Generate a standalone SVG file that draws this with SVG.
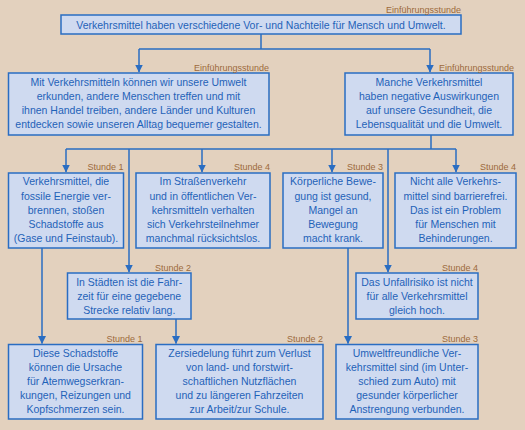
<svg xmlns="http://www.w3.org/2000/svg" width="525" height="430" viewBox="0 0 525 430">
<defs>
<style>
.bg{fill:#e3d1be}
.box{fill:#cfdaf0;stroke:#2a6dc2;stroke-width:1.5}
.t{font-family:"Liberation Sans",Arial,sans-serif;font-size:10.5px;fill:#1f62b8;text-anchor:middle}
.lb{font-family:"Liberation Sans",Arial,sans-serif;font-size:9px;fill:#9c6a3c;text-anchor:end}
.c{fill:none;stroke:#2a6dc2;stroke-width:1.5}
</style>
<marker id="ad" markerUnits="userSpaceOnUse" markerWidth="8" markerHeight="8" refX="7" refY="3.75" orient="auto" viewBox="0 0 7.5 7.5">
<path d="M0,0 L7.5,3.75 L0,7.5 Z" fill="#2a6dc2"/>
</marker>
</defs>
<rect class="bg" x="0" y="0" width="525" height="430"/>
<g id="connectors">
<path class="c" d="M261,34 V49 M139,49 H430"/>
<path class="c" d="M139,49 V72" marker-end="url(#ad)"/>
<path class="c" d="M430,49 V72" marker-end="url(#ad)"/>
<path class="c" d="M431,135 V149 M66,149 H456"/>
<path class="c" d="M66,149 V172" marker-end="url(#ad)"/>
<path class="c" d="M202,149 V172" marker-end="url(#ad)"/>
<path class="c" d="M332,149 V172" marker-end="url(#ad)"/>
<path class="c" d="M456,149 V172" marker-end="url(#ad)"/>
<path class="c" d="M129,149 V272" marker-end="url(#ad)"/>
<path class="c" d="M388,149 V272" marker-end="url(#ad)"/>
<path class="c" d="M42,248 V343.5" marker-end="url(#ad)"/>
<path class="c" d="M176,319 V343.5" marker-end="url(#ad)"/>
<path class="c" d="M348,248 V343.5" marker-end="url(#ad)"/>
</g>
<g id="n_top">
<rect class="box" x="61" y="15" width="400" height="19"/>
<text class="lb" x="461" y="13">Einführungsstunde</text>
<text class="t" x="261" y="28.5">Verkehrsmittel haben verschiedene Vor- und Nachteile für Mensch und Umwelt.</text>
</g>
<g id="n_vorteile">
<rect class="box" x="8.5" y="73" width="260.5" height="62"/>
<text class="lb" x="269" y="70.5">Einführungsstunde</text>
<text class="t" x="138.5" y="85.5">Mit Verkehrsmitteln können wir unsere Umwelt</text>
<text class="t" x="138.5" y="99.5">erkunden, andere Menschen treffen und mit</text>
<text class="t" x="138.5" y="113.5">ihnen Handel treiben, andere Länder und Kulturen</text>
<text class="t" x="138.5" y="127.5">entdecken sowie unseren Alltag bequemer gestalten.</text>
</g>
<g id="n_nachteile">
<rect class="box" x="345" y="73" width="168" height="62"/>
<text class="lb" x="514" y="70.5">Einführungsstunde</text>
<text class="t" x="429" y="85.5">Manche Verkehrsmittel</text>
<text class="t" x="429" y="99.5">haben negative Auswirkungen</text>
<text class="t" x="429" y="113.5">auf unsere Gesundheit, die</text>
<text class="t" x="429" y="127.5">Lebensqualität und die Umwelt.</text>
</g>
<g id="n_fossil">
<rect class="box" x="8.5" y="173" width="115" height="75"/>
<text class="lb" x="123.5" y="170">Stunde 1</text>
<text class="t" x="66" y="185.2">Verkehrsmittel, die</text>
<text class="t" x="66" y="199.5">fossile Energie ver-</text>
<text class="t" x="66" y="213.5">brennen, stoßen</text>
<text class="t" x="66" y="227.5">Schadstoffe aus</text>
<text class="t" x="66" y="241.7">(Gase und Feinstaub).</text>
</g>
<g id="n_strasse">
<rect class="box" x="136" y="173" width="134" height="75"/>
<text class="lb" x="270" y="170">Stunde 4</text>
<text class="t" x="203" y="185.2">Im Straßenverkehr</text>
<text class="t" x="203" y="199.5">und in öffentlichen Ver-</text>
<text class="t" x="203" y="213.5">kehrsmitteln verhalten</text>
<text class="t" x="203" y="227.5">sich Verkehrsteilnehmer</text>
<text class="t" x="203" y="241.7">manchmal rücksichtslos.</text>
</g>
<g id="n_bewegung">
<rect class="box" x="283" y="173" width="100" height="75"/>
<text class="lb" x="383" y="170">Stunde 3</text>
<text class="t" x="333" y="185.2">Körperliche Bewe-</text>
<text class="t" x="333" y="199.5">gung ist gesund,</text>
<text class="t" x="333" y="213.5">Mangel an</text>
<text class="t" x="333" y="227.5">Bewegung</text>
<text class="t" x="333" y="241.7">macht krank.</text>
</g>
<g id="n_barriere">
<rect class="box" x="395" y="173" width="121" height="75"/>
<text class="lb" x="516" y="170">Stunde 4</text>
<text class="t" x="455.5" y="185.2">Nicht alle Verkehrs-</text>
<text class="t" x="455.5" y="199.5">mittel sind barrierefrei.</text>
<text class="t" x="455.5" y="213.5">Das ist ein Problem</text>
<text class="t" x="455.5" y="227.5">für Menschen mit</text>
<text class="t" x="455.5" y="241.7">Behinderungen.</text>
</g>
<g id="n_staedte">
<rect class="box" x="67.5" y="273" width="123.5" height="46"/>
<text class="lb" x="191" y="270.5">Stunde 2</text>
<text class="t" x="129.25" y="285.5">In Städten ist die Fahr-</text>
<text class="t" x="129.25" y="299.5">zeit für eine gegebene</text>
<text class="t" x="129.25" y="313.5">Strecke relativ lang.</text>
</g>
<g id="n_unfall">
<rect class="box" x="356" y="273" width="122" height="46"/>
<text class="lb" x="478" y="270.5">Stunde 4</text>
<text class="t" x="417" y="285.5">Das Unfallrisiko ist nicht</text>
<text class="t" x="417" y="299.5">für alle Verkehrsmittel</text>
<text class="t" x="417" y="313.5">gleich hoch.</text>
</g>
<g id="n_schadstoffe">
<rect class="box" x="8.5" y="344.5" width="134" height="74.5"/>
<text class="lb" x="142.5" y="341.5">Stunde 1</text>
<text class="t" x="75.5" y="356.5">Diese Schadstoffe</text>
<text class="t" x="75.5" y="370.8">können die Ursache</text>
<text class="t" x="75.5" y="384.8">für Atemwegserkran-</text>
<text class="t" x="75.5" y="399.2">kungen, Reizungen und</text>
<text class="t" x="75.5" y="413">Kopfschmerzen sein.</text>
</g>
<g id="n_zersiedelung">
<rect class="box" x="156" y="344.5" width="167" height="74.5"/>
<text class="lb" x="323" y="341.5">Stunde 2</text>
<text class="t" x="239.5" y="356.5">Zersiedelung führt zum Verlust</text>
<text class="t" x="239.5" y="370.8">von land- und forstwirt-</text>
<text class="t" x="239.5" y="384.8">schaftlichen Nutzflächen</text>
<text class="t" x="239.5" y="399.2">und zu längeren Fahrzeiten</text>
<text class="t" x="239.5" y="413">zur Arbeit/zur Schule.</text>
</g>
<g id="n_umwelt">
<rect class="box" x="336" y="344.5" width="142" height="74.5"/>
<text class="lb" x="478" y="341.5">Stunde 3</text>
<text class="t" x="407" y="356.5">Umweltfreundliche Ver-</text>
<text class="t" x="407" y="370.8">kehrsmittel sind (im Unter-</text>
<text class="t" x="407" y="384.8">schied zum Auto) mit</text>
<text class="t" x="407" y="399.2">gesunder körperlicher</text>
<text class="t" x="407" y="413">Anstrengung verbunden.</text>
</g>
</svg>
